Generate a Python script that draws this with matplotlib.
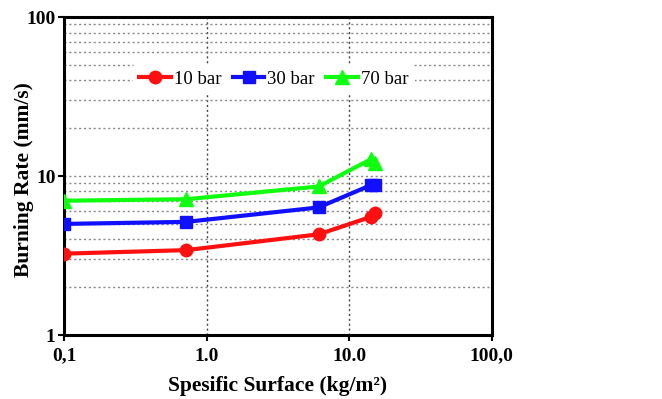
import matplotlib
matplotlib.use("Agg")
import matplotlib.pyplot as plt
from matplotlib.ticker import FixedLocator, NullLocator, LogLocator

x_vals = [0.1, 0.72, 6.1, 14.3, 15.2]
rate_10 = [3.25, 3.42, 4.3, 5.55, 5.85]
rate_30 = [5.0, 5.15, 6.35, 8.8, 8.75]
rate_70 = [7.0, 7.15, 8.6, 12.8, 12.1]
series_labels = ["10 bar", "30 bar", "70 bar"]
x_tick_vals = [0.1, 1, 10, 100]
x_tick_labels = ["0,1", "1.0", "10.0", "100,0"]
y_tick_vals = [1, 10, 100]
y_tick_labels = ["1", "10", "100"]

plt.rcParams['font.family'] = ['Liberation Serif', 'DejaVu Serif']

fig = plt.figure(figsize=(6.62, 3.99), dpi=100)
ax = fig.add_axes([0.0967, 0.1604, 0.743 - 0.0967, 0.957 - 0.1604])

ax.plot(x_vals, rate_10, color='#ff1010', marker='o', ms=9, lw=3, label=series_labels[0], zorder=3)
ax.plot(x_vals, rate_30, color='#1010ff', marker='s', ms=9, lw=3, label=series_labels[1], zorder=3)
ax.plot(x_vals, rate_70, color='#10ff10', marker='^', ms=10, lw=3, label=series_labels[2], zorder=3)

ax.set_xscale('log')
ax.set_yscale('log')
ax.set_xlim(0.1, 100)
ax.set_ylim(1, 100)

ax.xaxis.set_major_locator(FixedLocator(x_tick_vals))
ax.set_xticklabels(x_tick_labels, fontsize=14, fontweight='bold')
ax.xaxis.set_minor_locator(NullLocator())
ax.yaxis.set_major_locator(FixedLocator(y_tick_vals))
ax.set_yticklabels(y_tick_labels, fontsize=14, fontweight='bold')
ax.yaxis.set_minor_locator(LogLocator(base=10, subs=range(2, 10)))
ax.tick_params(axis='y', which='minor', length=0)
ax.tick_params(axis='x', which='major', length=4, width=1.5, direction='out', pad=5)
ax.tick_params(axis='y', which='major', length=4, width=1.5, direction='out', pad=2)

# grid
ax.grid(True, axis='y', which='minor', color='#888888', linestyle=(0, (1.5, 2)), lw=1)
ax.grid(True, axis='y', which='major', color='#888888', linestyle=(0, (1.5, 2)), lw=1)
ax.grid(True, axis='x', which='major', color='#444444', linestyle=(0, (1.5, 2)), lw=1)
ax.set_axisbelow(True)

for s in ax.spines.values():
    s.set_linewidth(2.2)
    s.set_color('black')

ax.set_xlabel('Spesific Surface (kg/m²)', fontsize=15.5, fontweight='bold')
ax.xaxis.set_label_coords(0.5, -0.13)
ax.set_ylabel('Burning Rate (mm/s)', fontsize=15.5, fontweight='bold')
ax.yaxis.set_label_coords(-0.07, 0.49)

leg = ax.legend(loc='center', bbox_to_anchor=(0.49, 0.805), ncol=3, frameon=True,
                facecolor='white', edgecolor='white', framealpha=1, fontsize=13.5,
                handlelength=1.7, handletextpad=0.15, columnspacing=0.6, borderpad=0.35)
leg.get_frame().set_linewidth(0)

fig.savefig('out.png', dpi=100)
